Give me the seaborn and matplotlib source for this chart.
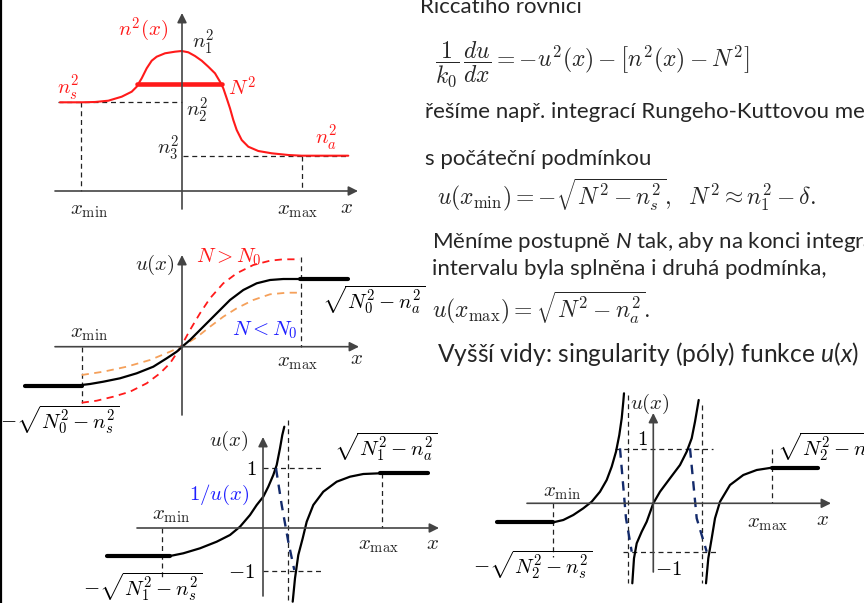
import numpy as np
import pandas as pd
import matplotlib as mpl
import matplotlib.pyplot as plt
import seaborn as sns

sns.set_theme(style="white")
mpl.rcParams.update({
    "mathtext.fontset": "cm",
    "mathtext.rm": "Lato",
    "mathtext.it": "Lato:italic",
    "font.family": ["Lato", "DejaVu Sans"],
})

# --- curve data (figure pixel units, y downward) ----------------------------
# panel 1: refractive index profile n^2(x)
n2_x = [60, 81.7, 95, 108.3, 121.7, 131.7, 136.7, 141.7, 146.7, 151.7, 156.7, 165,
        175, 181.7, 188.3, 195, 201.7, 208.3, 215, 220, 223.3, 226.7, 230, 233.3,
        236.7, 241.7, 248.3, 258.3, 271.7, 288.3, 301.7, 348.3]
n2_y = [102.3, 102.3, 102, 100.7, 96.7, 91.7, 86.7, 78.3, 68.3, 60.7, 56.7, 53.3,
        51.7, 51, 52.3, 56, 60.7, 66.7, 73.3, 81.7, 88.3, 98.3, 108.3, 120,
        130, 140, 146.7, 151, 153.3, 155, 155.7, 155.7]
N2_x = [136.7, 221.7]
N2_y = [84.3, 84.3]

# panel 2: fundamental mode u(x), exact N0 and N above / below it
u0_x = [81.7, 90, 103.3, 120, 136.7, 153.3, 166.7, 176.7, 183.3, 190, 200, 210,
        220, 230, 243.3, 256.7, 270, 283.3, 300]
u0_y = [385, 384, 381.7, 378.3, 373.3, 366.7, 358.3, 351.7, 345.7, 340, 330, 320,
        310, 300, 290, 283.3, 280, 279, 279]
u0_lo_x, u0_lo_y = [25, 81.7], [386, 386]
u0_hi_x, u0_hi_y = [300, 348], [279, 279]
ugt_x = [81.7, 96.7, 113.3, 130, 146.7, 160, 170, 180, 190, 200, 210, 223.3,
         236.7, 253.3, 270, 283.3, 300]
ugt_y = [402.7, 400.7, 396.7, 391.7, 383.3, 373.3, 363.3, 348.3, 330, 313.3, 298.3,
         283.3, 273.3, 265, 260.7, 259.3, 259.3]
ult_x = [81.7, 103.3, 126.7, 150, 170, 183.3, 196.7, 210, 223.3, 236.7, 253.3,
         270, 286.7, 300]
ult_y = [375, 371.7, 366.7, 360, 351.7, 345.7, 337.3, 326.7, 316.7, 308.3, 300,
         294.3, 292.7, 292.7]

# panel 3: first mode with one pole
u1a_x = [170, 183.3, 200, 216.7, 230, 240, 250, 256.7, 263.3, 268.3, 273.3, 276.7,
         280, 282.3, 284.3]
u1a_y = [556, 553.3, 548.3, 541.7, 535, 526.7, 515, 505, 496.7, 486.7, 475, 465,
         448.3, 435, 426.7]
u1b_x = [292.7, 295, 298.3, 302.7, 306.7, 313.3, 323.3, 336.7, 350, 363.3, 380]
u1b_y = [601.7, 578.3, 555, 538.3, 521.7, 505, 491.7, 481.7, 476.7, 474, 473.3]
u1_lo_x, u1_lo_y = [107, 170], [556, 556]
u1_hi_x, u1_hi_y = [380, 428], [473.3, 473.3]
inv1_x = [276, 281.7, 288.3, 294.3]
inv1_y = [468.3, 505, 541.7, 570]

# panel 4: second mode with two poles
u2a_x = [553.3, 563.3, 573.3, 583.3, 591.7, 600, 606.7, 611.7, 616, 619.3, 621.7,
         623.3, 624]
u2a_y = [522.3, 520, 515, 508.3, 501.7, 491.7, 480, 466.7, 451.7, 435, 418.3,
         401.7, 393.3]
u2b_x = [632.3, 634, 636.7, 641.7, 646.7, 653.3, 660, 670, 680, 686.7, 691.7, 695,
         697.3, 698.7]
u2b_y = [583.3, 558.3, 543.3, 531.7, 521.7, 503.3, 491.7, 478.3, 465, 451.7, 438.3,
         421.7, 408.3, 400]
u2c_x = [706, 708.3, 711.7, 715, 720, 730, 743.3, 756.7, 771.7]
u2c_y = [583.3, 558.3, 538.3, 518.3, 501.7, 485, 475, 470, 467.7]
u2_lo_x, u2_lo_y = [497, 553.3], [522.3, 522.3]
u2_hi_x, u2_hi_y = [771.7, 818], [467.7, 467.7]
inv2a_x, inv2a_y = [620, 626, 631.7], [448.3, 518.3, 551.7]
inv2b_x, inv2b_y = [690, 696.7, 706.7], [448.3, 518.3, 551.7]

# axes of the four sketches: (x_start, x_end, x_axis_y, y_axis_x, y_bottom, y_top)
sketch_axes = [
    (55, 358, 191, 182, 209, 13),
    (55, 359, 346.7, 182, 415, 255),
    (137, 439, 528, 263, 596, 437),
    (527, 831, 503.3, 653.3, 572, 413),
]

# dashed guide lines: (x0, y0, x1, y1)
guides = [
    (58, 102.3, 182, 102.3), (81, 102.3, 81, 191), (183, 156, 348, 156),
    (302, 156, 302, 191),
    (81.7, 346.7, 81.7, 403), (300.5, 257, 300.5, 346.7),
    (287.7, 420, 287.7, 603), (263, 468.3, 323, 468.3), (263, 570.7, 323, 570.7),
    (162.3, 528, 162.3, 580), (381.7, 473.3, 381.7, 528),
    (628.3, 395, 628.3, 583), (702.3, 405, 702.3, 583), (615, 449, 713.3, 449),
    (623.3, 551.7, 718.3, 551.7), (552.7, 503.3, 552.7, 557), (771.7, 449, 771.7, 503.3),
]

RED = "#ff1a1a"
ORANGE = "#f5a05a"
BLUE = "#1f1fff"
NAVY = "#132a6b"
INK = "#222222"

fig = plt.figure(figsize=(8.64, 6.03), dpi=100)
ax = fig.add_axes([0, 0, 1, 1])
ax.set_xlim(0, 864)
ax.set_ylim(603, 0)
ax.axis("off")


def curve(xs, ys, color="black", lw=1.5, dashes=None):
    df = pd.DataFrame({"x": xs, "y": ys})
    line = sns.lineplot(data=df, x="x", y="y", sort=False, estimator=None,
                        color=color, lw=lw, ax=ax, legend=False)
    line.lines[-1].set_solid_joinstyle("round")
    if dashes is not None:
        line.lines[-1].set_dashes(dashes)


# left slide border
ax.plot([0.8, 0.8], [0, 603], color="black", lw=1.6)

for x0, x1, yax, xax, yb, yt in sketch_axes:
    ax.annotate("", xy=(x1, yax), xytext=(x0, yax),
                arrowprops=dict(arrowstyle="-|>", color="#444444", lw=1.2,
                                mutation_scale=14, shrinkA=0, shrinkB=0))
    ax.annotate("", xy=(xax, yt), xytext=(xax, yb),
                arrowprops=dict(arrowstyle="-|>", color="#444444", lw=1.2,
                                mutation_scale=14, shrinkA=0, shrinkB=0))

for x0, y0, x1, y1 in guides:
    ax.plot([x0, x1], [y0, y1], color=INK, lw=0.9, dashes=(4, 3))

# panel 1
curve(n2_x, n2_y, RED, 1.5)
curve(N2_x, N2_y, RED, 3.3)
# panel 2
curve(ugt_x, ugt_y, RED, 1.3, (4, 3))
curve(ult_x, ult_y, ORANGE, 1.3, (4, 3))
curve(u0_x, u0_y, "black", 1.6)
curve(u0_lo_x, u0_lo_y, "black", 3)
curve(u0_hi_x, u0_hi_y, "black", 3)
# panel 3
curve(u1a_x, u1a_y, "black", 1.6)
curve(u1b_x, u1b_y, "black", 1.6)
curve(u1_lo_x, u1_lo_y, "black", 3)
curve(u1_hi_x, u1_hi_y, "black", 3)
curve(inv1_x, inv1_y, NAVY, 1.7, (4, 3))
# panel 4
curve(u2a_x, u2a_y, "black", 1.6)
curve(u2b_x, u2b_y, "black", 1.6)
curve(u2c_x, u2c_y, "black", 1.6)
curve(u2_lo_x, u2_lo_y, "black", 3)
curve(u2_hi_x, u2_hi_y, "black", 3)
curve(inv2a_x, inv2a_y, NAVY, 1.7, (4, 3))
curve(inv2b_x, inv2b_y, NAVY, 1.7, (4, 3))

# math labels of the sketches
labels = [
    (143, 30, r"$n^2(x)$", RED), (203, 42, r"$n_1^2$", INK),
    (68, 88, r"$n_s^2$", RED), (242, 88, r"$N^2$", RED),
    (197, 110, r"$n_2^2$", INK), (168, 148, r"$n_3^2$", INK),
    (326, 138, r"$n_a^2$", RED), (89, 210, r"$x_{\min}$", INK),
    (297, 210, r"$x_{\max}$", INK), (347, 207, r"$x$", INK),
    (155, 265, r"$u(x)$", INK), (229, 257, r"$N > N_0$", RED),
    (265, 330, r"$N < N_0$", BLUE), (374, 300, r"$\sqrt{N_0^2 - n_a^2}$", "black"),
    (89, 333, r"$x_{\min}$", INK), (297, 362, r"$x_{\max}$", INK),
    (357, 358, r"$x$", INK), (60, 420, r"$-\sqrt{N_0^2 - n_s^2}$", "black"),
    (229, 441, r"$u(x)$", INK), (251, 469, r"$1$", "black"),
    (241, 572, r"$-1$", "black"), (219, 495, r"$1/u(x)$", BLUE),
    (171, 515, r"$x_{\min}$", INK), (378, 545, r"$x_{\max}$", INK),
    (432, 543, r"$x$", INK), (386, 447, r"$\sqrt{N_1^2 - n_a^2}$", "black"),
    (143, 587, r"$-\sqrt{N_1^2 - n_s^2}$", "black"),
    (650, 404, r"$u(x)$", INK), (642, 439, r"$1$", "black"),
    (668, 569, r"$-1$", "black"), (562, 492, r"$x_{\min}$", INK),
    (767, 523, r"$x_{\max}$", INK), (822, 519, r"$x$", INK),
    (533, 565, r"$-\sqrt{N_2^2 - n_s^2}$", "black"),
]
for x, y, s, c in labels:
    ax.text(x, y, s, color=c, fontsize=15, ha="center", va="center")
ax.text(777, 447, r"$\sqrt{N_2^2 - n_a^2}$", color="black", fontsize=15,
        ha="left", va="center")

# slide text (runs off the right edge of the slide, as in the original)
ax.text(420, 12.7, "Riccatiho rovnici", fontsize=16, ha="left", va="baseline")
ax.text(435, 64, r"$\dfrac{1}{k_0}\,\dfrac{du}{dx} = -u^2(x) - \left[n^2(x) - N^2\right]$",
        fontsize=17, ha="left", va="center")
ax.text(425, 118, "řešíme např. integrací Rungeho-Kuttovou metodou", fontsize=16,
        ha="left", va="baseline")
ax.text(425, 165, "s počáteční podmínkou", fontsize=16, ha="left", va="baseline")
ax.text(437, 195, r"$u(x_{\min}) = -\sqrt{N^2 - n_s^2},\ \ N^2 \approx n_1^2 - \delta.$",
        fontsize=17, ha="left", va="center")
ax.text(432, 248, r"Měníme postupně $\mathit{N}$ tak, aby na konci integračního",
        fontsize=16, ha="left", va="baseline", math_fontfamily="custom")
ax.text(432, 275, "intervalu byla splněna i druhá podmínka,", fontsize=16,
        ha="left", va="baseline")
ax.text(432, 308, r"$u(x_{\max}) = \sqrt{N^2 - n_a^2}.$", fontsize=17,
        ha="left", va="center")
ax.text(437, 362, r"Vyšší vidy: singularity (póly) funkce $\mathit{u}$($\mathit{x}$)",
        fontsize=17.7, ha="left", va="baseline", math_fontfamily="custom")

fig.savefig("out.png", dpi=100)
